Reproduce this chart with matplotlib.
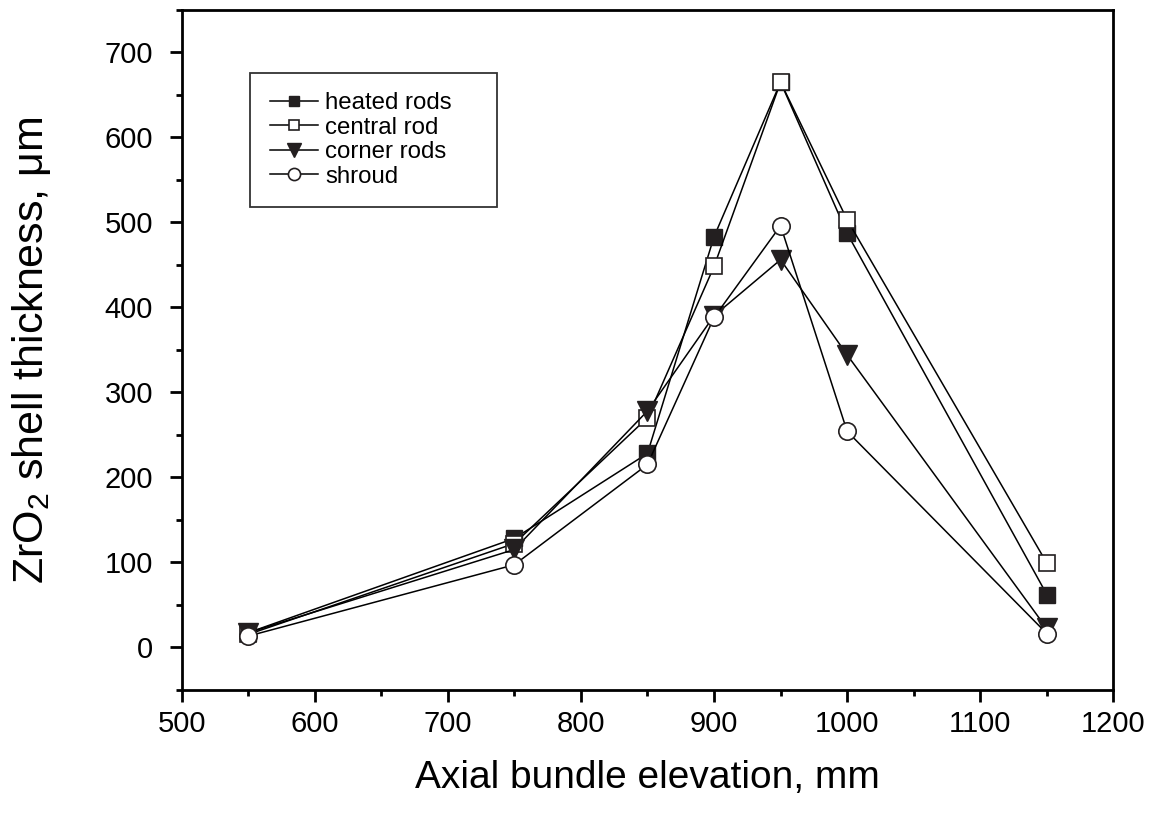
import numpy as np
import matplotlib
matplotlib.use("Agg")
import matplotlib.pyplot as plt

plt.rcParams['font.family'] = ['Liberation Sans', 'DejaVu Sans']
plt.rcParams['mathtext.fontset'] = 'custom'
plt.rcParams['mathtext.rm'] = 'Liberation Sans'
plt.rcParams['mathtext.default'] = 'regular'

# axial elevations, mm
elev = [550, 750, 850, 900, 950, 1000, 1150]

# ZrO2 shell thickness, um
heated = [17, 128, 228, 483, 665, 487, 62]
central = [15, 122, 270, 448, 665, 503, 99]
corner = [17, 115, 278, 390, 456, 344, 22]
shroud = [13, 97, 215, 388, 496, 254, 16]

fig = plt.figure(figsize=(11.49, 8.23), dpi=100)
ax = fig.add_axes([0.158, 0.162, 0.811, 0.826])

lw = 1.1
ink = '#231f20'
ax.plot(elev, heated, '-s', color='black', lw=lw, ms=11, mfc=ink, mec=ink, label='heated rods    ')
ax.plot(elev, central, '-s', color='black', lw=lw, ms=11, mfc='white', mec=ink, mew=1.2, label='central rod')
ax.plot(elev, corner, '-v', color='black', lw=lw, ms=14, mfc=ink, mec=ink, label='corner rods')
ax.plot(elev, shroud, '-o', color='black', lw=lw, ms=12.5, mfc='white', mec=ink, mew=1.2, label='shroud')

ax.set_xlim(500, 1200)
ax.set_ylim(-50, 750)
ax.set_xticks(np.arange(500, 1201, 100))
ax.set_xticks(np.arange(550, 1200, 100), minor=True)
ax.set_yticks(np.arange(0, 701, 100))
ax.set_yticks(np.arange(-50, 751, 50), minor=True)

for s in ax.spines.values():
    s.set_linewidth(2)
ax.tick_params(which='both', direction='out', width=2, labelsize=21, colors='black')
ax.tick_params(which='major', length=8.5)
ax.tick_params(which='minor', length=4)
ax.tick_params(axis='x', pad=6)
ax.tick_params(axis='y', pad=12)

ax.set_xlabel('Axial bundle elevation, mm', fontsize=28, labelpad=16)
ax.set_ylabel('ZrO$_2$ shell thickness, μm', fontsize=31, labelpad=37)

leg = ax.legend(loc='upper left', bbox_to_anchor=(0.074, 0.907), borderaxespad=0,
                fontsize=17.3, frameon=True, fancybox=False, edgecolor='black',
                handlelength=2.0, handletextpad=0.3, labelspacing=0.1, borderpad=0.8,
                markerscale=0.7)
leg.get_frame().set_linewidth(1.3)

fig.savefig('out.png', dpi=100)
